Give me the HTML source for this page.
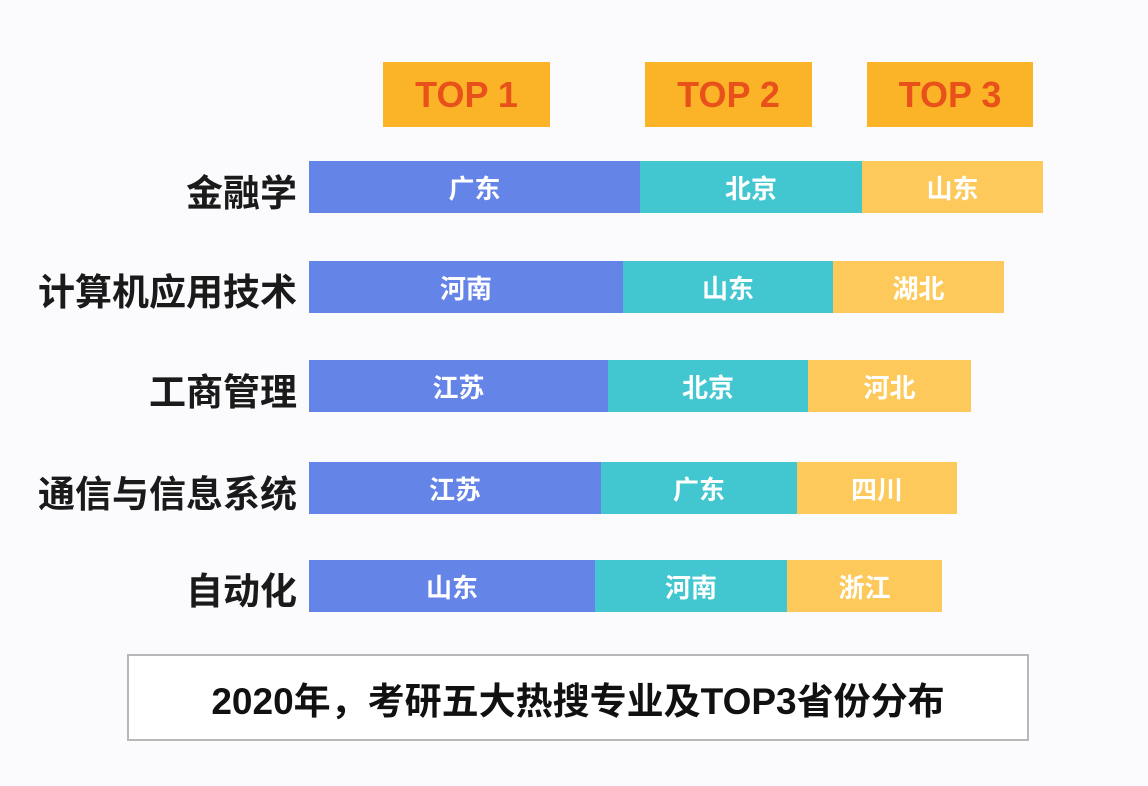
<!DOCTYPE html>
<html><head><meta charset="utf-8"><style>
body{margin:0;width:1148px;height:786px;background:#fbfbfd;position:relative;overflow:hidden;font-family:"Liberation Sans","Noto Sans CJK SC",sans-serif}
.a{position:absolute}
.top{background:#fbb428;color:#e8521a;font-weight:bold;font-size:36px;display:flex;align-items:center;justify-content:center;top:62px;height:65px}
.lab{right:851px;font-size:37px;font-weight:bold;color:#1a1a1a;height:52px;display:flex;align-items:center;white-space:nowrap}
.s{height:52px;display:flex;align-items:center;justify-content:center;color:#fff;font-size:26px;font-weight:bold}
.b{background:#6584e8}.t{background:#42c6d0}.y{background:#fdc95b}
</style></head><body>
<div class="a top" style="left:383px;width:167px">TOP 1</div>
<div class="a top" style="left:645px;width:167px">TOP 2</div>
<div class="a top" style="left:867px;width:166px">TOP 3</div>

<div class="a lab" style="top:164px">金融学</div>
<div class="a s b" style="top:161px;left:309px;width:331px">广东</div>
<div class="a s t" style="top:161px;left:640px;width:222px">北京</div>
<div class="a s y" style="top:161px;left:862px;width:181px">山东</div>

<div class="a lab" style="top:263px">计算机应用技术</div>
<div class="a s b" style="top:261px;left:309px;width:314px">河南</div>
<div class="a s t" style="top:261px;left:623px;width:210px">山东</div>
<div class="a s y" style="top:261px;left:833px;width:171px">湖北</div>

<div class="a lab" style="top:363px">工商管理</div>
<div class="a s b" style="top:360px;left:309px;width:299px">江苏</div>
<div class="a s t" style="top:360px;left:608px;width:200px">北京</div>
<div class="a s y" style="top:360px;left:808px;width:163px">河北</div>

<div class="a lab" style="top:465px">通信与信息系统</div>
<div class="a s b" style="top:462px;left:309px;width:292px">江苏</div>
<div class="a s t" style="top:462px;left:601px;width:196px">广东</div>
<div class="a s y" style="top:462px;left:797px;width:160px">四川</div>

<div class="a lab" style="top:562px">自动化</div>
<div class="a s b" style="top:560px;left:309px;width:286px">山东</div>
<div class="a s t" style="top:560px;left:595px;width:192px">河南</div>
<div class="a s y" style="top:560px;left:787px;width:155px">浙江</div>

<div class="a" style="left:127px;top:654px;width:898px;height:83px;border:2px solid #b8b8b8;background:#fff;display:flex;align-items:center;justify-content:center;font-size:37px;font-weight:bold;color:#111">2020年，考研五大热搜专业及TOP3省份分布</div>
</body></html>
